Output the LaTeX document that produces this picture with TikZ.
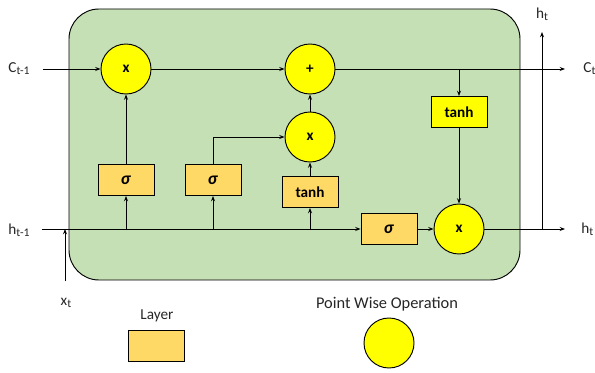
\documentclass[tikz,border=0pt]{standalone}
\usepackage{fontspec}
\setmainfont{Carlito}
\usetikzlibrary{positioning, arrows.meta, calc, backgrounds}
\usepackage{xcolor}
\definecolor{cellbg}{RGB}{197,224,180}
\definecolor{layerbg}{RGB}{255,217,102}
\definecolor{opbg}{RGB}{255,255,0}

\begin{document}
\begin{tikzpicture}[
        x=0.03cm, y=-0.03cm,
        opcirc/.style={circle, draw, line width=0.8pt, fill=opbg, inner sep=0pt,
                       minimum size=1.5cm, font=\bfseries\fontsize{13}{15}\selectfont},
        layerbox/.style={draw, line width=0.8pt, fill=layerbg, inner sep=0pt,
                         minimum width=1.68cm, minimum height=0.93cm,
                         font=\bfseries\fontsize{13}{15}\selectfont},
        tanhbox/.style={layerbox, fill=opbg},
        cellbox/.style={draw, line width=0.8pt, fill=cellbg, rounded corners=0.9cm},
        lbl/.style={font=\fontsize{13}{15}\selectfont, text=black!85, inner sep=1pt},
        arrow/.style={-{Stealth[length=4.5pt,width=3.4pt]}, line width=0.8pt},
    ]

    \def\sig{{\fontsize{15}{17}\selectfont\textit{σ}}}
    \def\sub#1{\raisebox{-0.25ex}{\fontsize{10}{11}\selectfont #1}}

    \useasboundingbox (0,0) rectangle (595,373);

    % ---------- cell background -------------------------------------------
    \draw[cellbox] (69,9) rectangle (520,280);

    % ---------- point wise operations -------------------------------------
    \node[opcirc] (fmul) at (126, 69)  {x};
    \node[opcirc] (add)  at (310, 69)  {+};
    \node[opcirc] (imul) at (310, 137) {x};
    \node[opcirc] (omul) at (459, 229) {x};

    % ---------- layers ----------------------------------------------------
    \node[layerbox] (sig1)  at (126, 180) {\sig};
    \node[layerbox] (sig2)  at (213, 180) {\sig};
    \node[layerbox] (tanh1) at (310, 192) {tanh};
    \node[layerbox] (sig3)  at (389, 229) {\sig};
    \node[tanhbox]  (tanh2) at (459, 112) {tanh};

    % ---------- inputs and outputs ----------------------------------------
    \node[lbl] (cprevlbl) at (19, 69)  {C\sub{t-1}};
    \node[lbl] (hprevlbl) at (19, 230) {h\sub{t-1}};
    \node[lbl] (xlbl)     at (66, 303) {x\sub{t}};
    \node[lbl, anchor=west] (cnextlbl) at (582, 69)  {C\sub{t}};
    \node[lbl, anchor=west] (hnextlbl) at (580, 229) {h\sub{t}};
    \node[lbl] (huplbl)   at (542, 14) {h\sub{t}};

    \coordinate (cprev)  at (43, 69);
    \coordinate (cnext)  at (565, 69);
    \coordinate (hprev)  at (42, 229);
    \coordinate (hnext)  at (565, 229);
    \coordinate (xin)    at (65, 281);
    \coordinate (hsplit) at (542, 229);
    \coordinate (hup)    at (542, 32);

    % ---------- cell state ------------------------------------------------
    \draw[arrow] (cprev) -- (fmul);
    \draw[arrow] (fmul) -- (add);
    \draw[arrow] (add) -- (cnext);
    \draw[arrow] (tanh2 |- add) -- (tanh2);

    % ---------- gates -----------------------------------------------------
    \draw[arrow] (sig1) -- (fmul);
    \draw[arrow] (sig2.north) |- (imul.west);
    \draw[arrow] (tanh1) -- (imul);
    \draw[arrow] (imul) -- (add);
    \draw[arrow] (tanh2) -- (omul);
    \draw[arrow] (sig3) -- (omul);

    % ---------- hidden state ----------------------------------------------
    \draw[arrow] (hprev) -- (sig3);
    \draw[arrow] (xin) -- (xin |- hprev);
    \draw[arrow] (sig1 |- hprev) -- (sig1);
    \draw[arrow] (sig2 |- hprev) -- (sig2);
    \draw[arrow] (tanh1 |- hprev) -- (tanh1);
    \draw[arrow] (omul) -- (hnext);
    \draw[arrow] (hsplit) -- (hup);

    % ---------- legend ----------------------------------------------------
    \node[lbl] (layerlbl) at (157, 316) {Layer};
    \node[layerbox] (layerkey) at (156, 346) {};
    \node[lbl, font=\fontsize{14}{16}\selectfont] (oplbl) at (387, 304) {Point Wise Operation};
    \node[opcirc] (opkey) at (389, 343) {};

\end{tikzpicture}
\end{document}
